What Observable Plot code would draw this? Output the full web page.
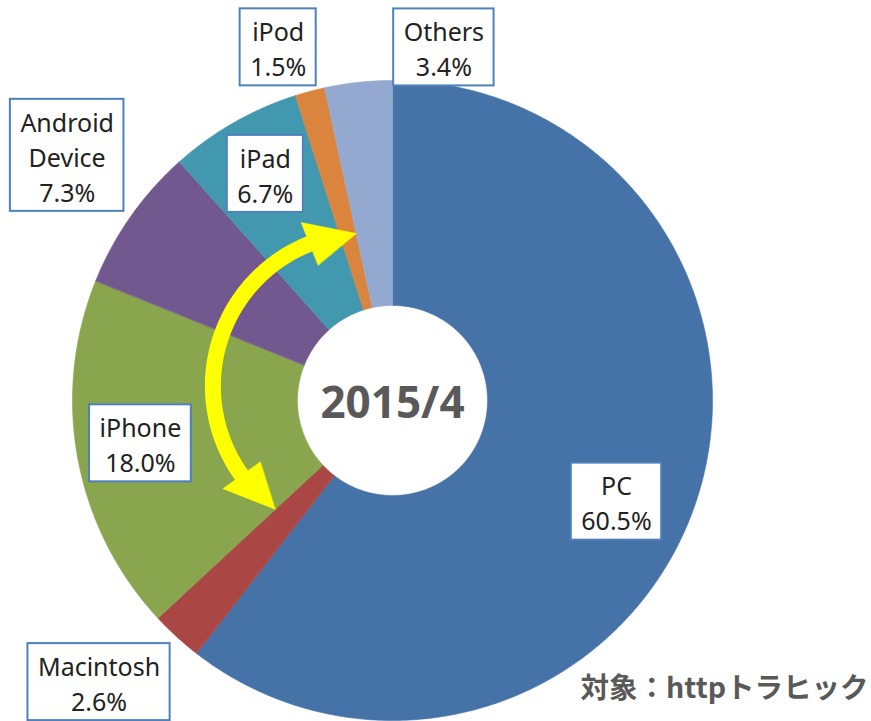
<!DOCTYPE html>
<html><head><meta charset="utf-8">
<script src="https://cdn.jsdelivr.net/npm/d3@7"></script>
<script src="https://cdn.jsdelivr.net/npm/@observablehq/plot@0.6"></script>
<style>html,body{margin:0;padding:0;background:#fff;overflow:hidden;} #chart{width:871px;height:721px;}</style>
</head><body><div id="chart"></div>
<script>
// ---- data ----
const categories = ["PC", "Macintosh", "iPhone", "Android Device", "iPad", "iPod", "Others"];
const labelNames = ["PC", "Macintosh", "iPhone", "Android\nDevice", "iPad", "iPod", "Others"];
const shares = [60.5, 2.6, 18.0, 7.3, 6.7, 1.5, 3.4];
const colors = ["#4572A7", "#AA4643", "#89A54E", "#71588F", "#4198AF", "#DB843D", "#93A9CF"];
const centerLabel = "2015/4";
const caption = "対象：httpトラヒック";
const arrowFrom = "iPhone";   // arrow spans these slices
const arrowTo = "iPod";

// ---- layout ----
const W = 871, H = 721, R = 320, CX = 392, CY = 400;
const INNER = 95 / R;
// per label: [radius factor, angle nudge in degrees]
const labelLayout = [[0.768, 5.4], [1.271, 3.7], [0.799, 0.8], [1.273, 1.9], [0.812, 0.4], [1.16, -3.0], [1.115, 14.4]];
const FONT = "Noto Sans", FS = 25, LINE = 35, PAD = 10;

const rad = a => a * Math.PI / 180;
const polar = (a, r) => ({x: r * Math.sin(rad(a)), y: r * Math.cos(rad(a))});

const total = d3.sum(shares);
let acc = 0;
const slices = categories.map((c, i) => {
  const a0 = acc / total * 360; acc += shares[i]; const a1 = acc / total * 360;
  return {name: c, label: labelNames[i], value: shares[i], a0, a1, mid: (a0 + a1) / 2, i};
});

const slicePts = slices.flatMap(s => {
  const n = Math.max(2, Math.ceil((s.a1 - s.a0) / 0.4));
  const pts = [];
  for (let k = 0; k <= n; k++) pts.push({name: s.name, ...polar(s.a0 + (s.a1 - s.a0) * k / n, 1)});
  for (let k = n; k >= 0; k--) pts.push({name: s.name, ...polar(s.a0 + (s.a1 - s.a0) * k / n, INNER)});
  return pts;
});

// ---- arrow (double-headed arc between iPhone start and iPod end) ----
const sFrom = slices.find(s => s.name === arrowFrom), sTo = slices.find(s => s.name === arrowTo);
const tipA = polar(sFrom.a0, 160 / R), tipB = polar(sTo.a1, 171 / R);
const ARC_R = 153 / R, SHAFT = 16, HEAD_LEN = 48 / 153 * 180 / Math.PI, HEAD_HW = 23 / R;
const mx = (tipA.x + tipB.x) / 2, my = (tipA.y + tipB.y) / 2;
const cdx = tipB.x - tipA.x, cdy = tipB.y - tipA.y, clen = Math.hypot(cdx, cdy);
const hdist = Math.sqrt(Math.max(0, ARC_R * ARC_R - clen * clen / 4));
const c1 = {x: mx + (-cdy / clen) * hdist, y: my + (cdx / clen) * hdist};
const c2 = {x: mx - (-cdy / clen) * hdist, y: my - (cdx / clen) * hdist};
const ac = Math.hypot(c1.x, c1.y) < Math.hypot(c2.x, c2.y) ? c1 : c2;
const angOf = p => ((Math.atan2(p.x - ac.x, p.y - ac.y) * 180 / Math.PI) + 360) % 360;
const aA = angOf(tipA), aB = angOf(tipB);
const apt = (a, r) => { const p = polar(a, r); return {x: ac.x + p.x, y: ac.y + p.y}; };
const shaftPts = d3.range(0, 101).map(k => apt(aA + HEAD_LEN * 0.8 + (aB - aA - HEAD_LEN * 1.6) * k / 100, ARC_R));
const headPts = [
  {end: "a", ...apt(aA, ARC_R)}, {end: "a", ...apt(aA + HEAD_LEN, ARC_R + HEAD_HW)}, {end: "a", ...apt(aA + HEAD_LEN, ARC_R - HEAD_HW)},
  {end: "b", ...apt(aB, ARC_R)}, {end: "b", ...apt(aB - HEAD_LEN, ARC_R + HEAD_HW)}, {end: "b", ...apt(aB - HEAD_LEN, ARC_R - HEAD_HW)}
];

// ---- labels ----
const ctx = document.createElement("canvas").getContext("2d");
ctx.font = `${FS}px "${FONT}"`;
const labels = slices.map(s => {
  const text = `${s.label}\n${s.value.toFixed(1)}%`;
  const lines = text.split("\n");
  const w = (d3.max(lines, l => ctx.measureText(l).width) + 2 * PAD) / R;
  const h = (lines.length * LINE + 7) / R;
  const [rf, nudge] = labelLayout[s.i];
  const p = polar(s.mid + nudge, rf);
  return {text, x: p.x, y: p.y, x1: p.x - w / 2, x2: p.x + w / 2, y1: p.y - h / 2, y2: p.y + h / 2};
});

const plot = Plot.plot({
  width: W, height: H, margin: 0,
  x: {domain: [-CX / R, (W - CX) / R], range: [0, W], axis: null},
  y: {domain: [-(H - CY) / R, CY / R], range: [H, 0], axis: null},
  color: {domain: categories, range: colors},
  style: {background: "#fff", overflow: "visible"},
  marks: [
    Plot.line(slicePts, {x: "x", y: "y", z: "name", fill: "name", stroke: "name", strokeWidth: 0.6, curve: "linear-closed"}),
    Plot.line(shaftPts, {x: "x", y: "y", stroke: "#FFFF00", strokeWidth: SHAFT, strokeLinecap: "butt"}),
    Plot.line(headPts, {x: "x", y: "y", z: "end", fill: "#FFFF00", stroke: "#FFFF00", strokeWidth: 0.5, curve: "linear-closed"}),
    Plot.rect(labels, {x1: "x1", x2: "x2", y1: "y1", y2: "y2", fill: "white", stroke: "#4F81BD", strokeWidth: 2}),
    Plot.text(labels, {x: "x", y: "y", text: "text", fontSize: FS, fontFamily: FONT, fill: "#222", lineHeight: LINE / FS}),
    Plot.text([{x: 0, y: 0, t: centerLabel}], {x: "x", y: "y", text: "t", fontSize: 44, fontWeight: "bold", fontFamily: FONT, fill: "#595959", dy: 3}),
    Plot.text([caption], {frameAnchor: "bottom-right", textAnchor: "end", dx: -3, dy: -24, fontSize: 28.5, fontWeight: "bold", fontFamily: "Noto Sans CJK JP", fill: "#595959"})
  ]
});
document.getElementById("chart").appendChild(plot);
</script>
</body></html>
